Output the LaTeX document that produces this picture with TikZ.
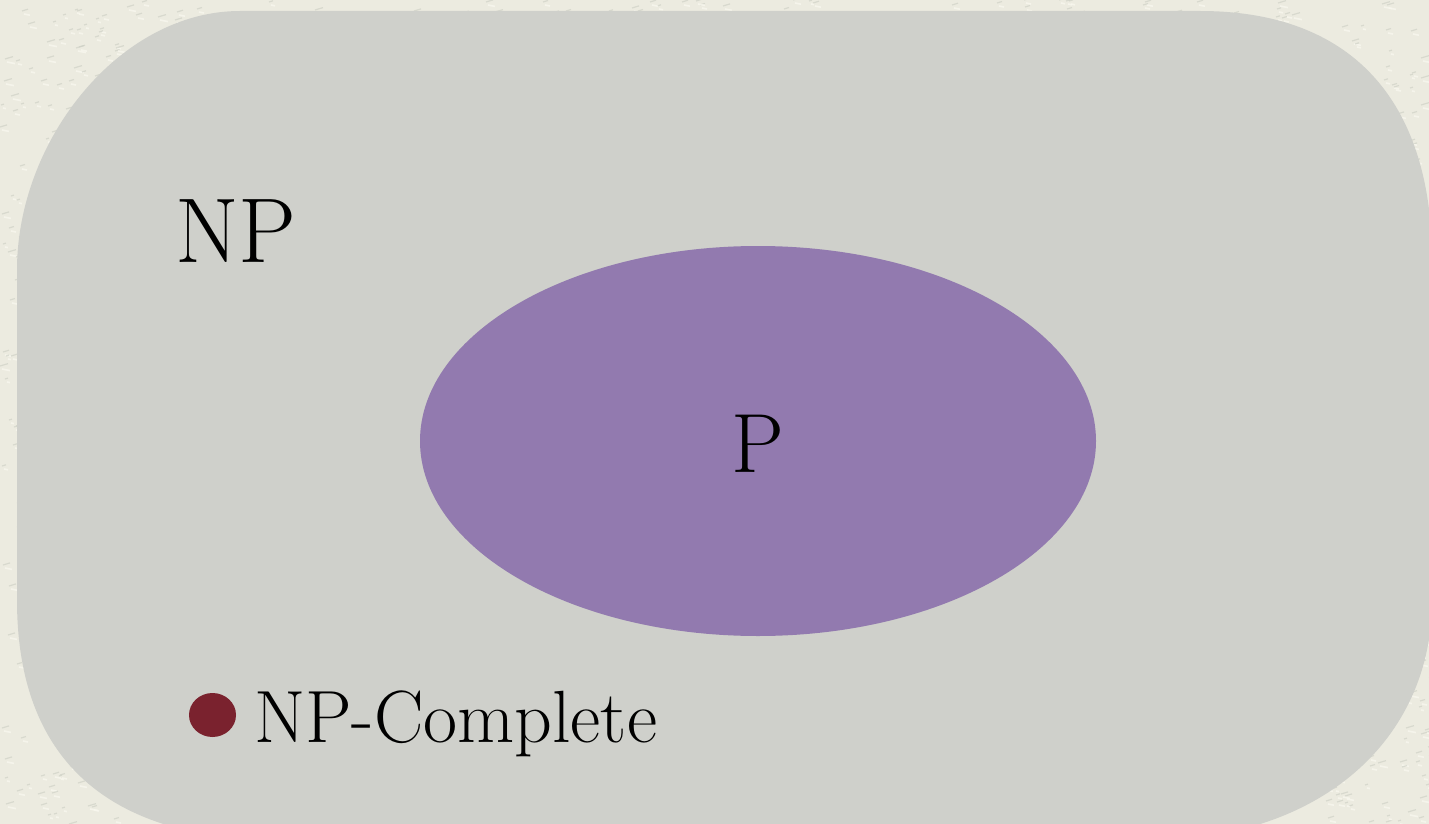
\documentclass[tikz,border=0pt]{standalone}
\definecolor{paper}{RGB}{236,235,224}
\definecolor{paperdark}{RGB}{203,206,195}
\definecolor{paperlight}{RGB}{248,247,238}
\definecolor{npgrey}{RGB}{207,208,203}
\definecolor{pviolet}{RGB}{146,122,175}
\definecolor{npcred}{RGB}{122,34,46}
\begin{document}
\begin{tikzpicture}[x=0.5pt,y=-0.5pt,
  setlabel/.style={inner sep=0pt, outer sep=0pt, text=black},
  texture/.style={paperdark, line width=0.6pt, opacity=0.6},
  texturelight/.style={paperlight, line width=0.8pt, opacity=0.8}
]
\useasboundingbox (0,0) rectangle (1429,824);
% textured paper background
\fill[paper] (0,0) rectangle (1429,824);
\pgfmathsetseed{7}
\foreach \i in {1,...,3000}{
  \pgfmathsetmacro{\xa}{random(0,1429)}
  \pgfmathsetmacro{\ya}{random(0,824)}
  \pgfmathsetmacro{\len}{random(3,8)}
  \draw[texture] (\xa,\ya) -- ++(\len,-0.3*\len);
  \draw[texturelight] (\xa+2,\ya+3) -- ++(\len,0.2*\len);
}
% NP region
\fill[npgrey] (240,11) -- (1200,11)
  .. controls (1360,11) and (1432,110) .. (1432,260)
  -- (1432,600)
  .. controls (1432,740) and (1320,840) .. (1150,840)
  -- (280,840)
  .. controls (120,840) and (17,770) .. (17,600)
  -- (17,270)
  .. controls (17,140) and (120,11) .. (240,11) -- cycle;
% P region
\fill[pviolet] (758,441) ellipse [x radius=338, y radius=195];
% labels
\node[setlabel, anchor=base west, font=\fontsize{46}{52}\selectfont] (np) at (175,262) {NP};
\node[setlabel, anchor=base, font=\fontsize{42}{48}\selectfont] (p) at (758,472) {P};
\fill[npcred] (212.5,715) ellipse [x radius=23.5, y radius=22];
\node[setlabel, anchor=base west, font=\fontsize{37}{43}\selectfont] (npc) at (254,742) {NP-Complete};
\end{tikzpicture}
\end{document}
